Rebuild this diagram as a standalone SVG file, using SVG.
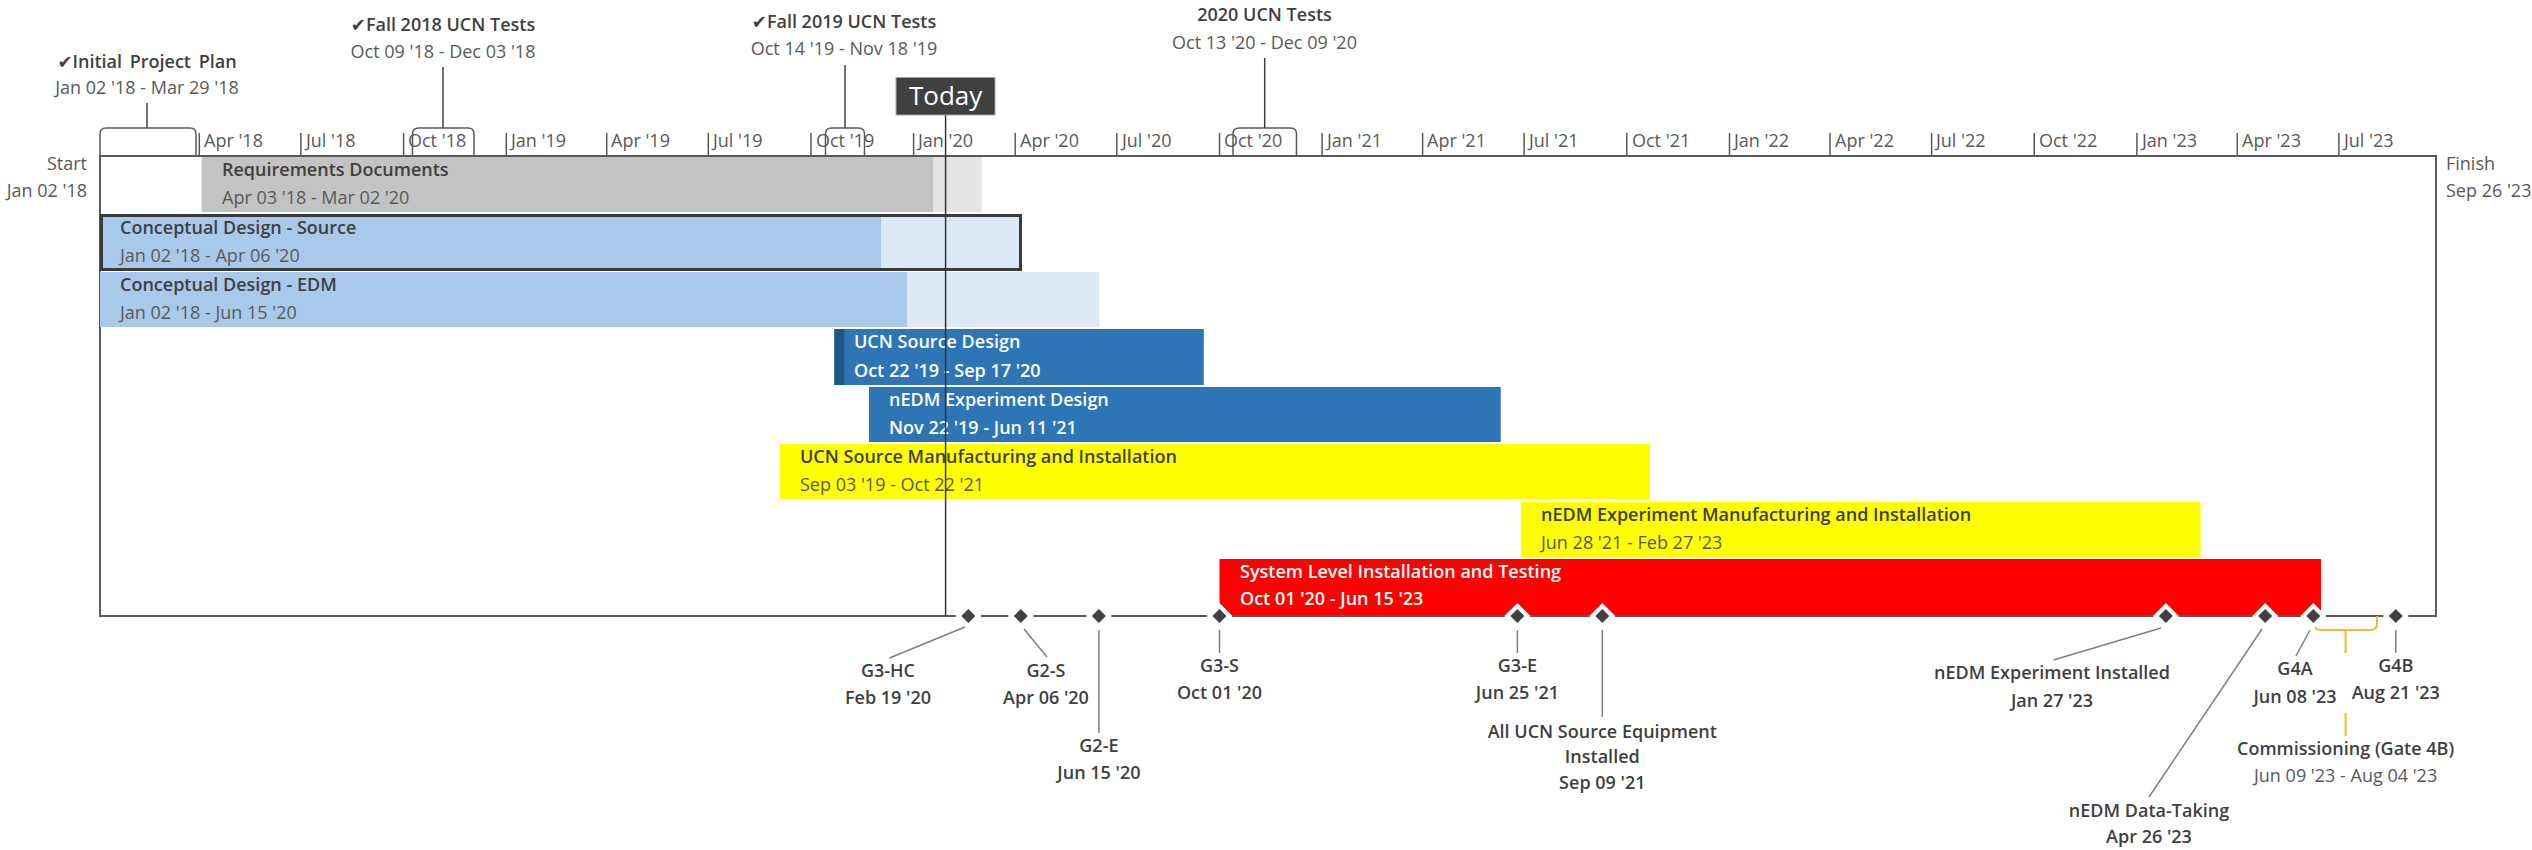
<svg xmlns="http://www.w3.org/2000/svg" width="2532" height="850" viewBox="0 0 2532 850">
<style>
text{font-family:"Open Sans","Noto Sans","DejaVu Sans",sans-serif;font-size:18px}
.ax{fill:#595959}
.t{font-weight:600;fill:#3f3f3f}
.d{fill:#595959}
.w{font-weight:600;fill:#ffffff}
.m{font-weight:600;fill:#3f3f3f;text-anchor:middle}
.c{text-anchor:middle}
.e{text-anchor:end}
.ld{stroke:#7f7f7f;stroke-width:1.5;fill:none}
.tl{stroke:#404040;stroke-width:1.5;fill:none}
.tk{stroke:#595959;stroke-width:1.5}
.fr{stroke:#595959;stroke-width:2;fill:none}
.br{fill:none;stroke:#595959;stroke-width:1.5}
.cm{fill:none;stroke:#f2b630;stroke-width:2}
.dw{fill:#ffffff}
.dk{fill:#404040}
</style>
<defs>
<path id="msw" class="dw" d="M0 -13 L13 0 L0 13 L-13 0 Z"/>
<path id="msd" class="dk" d="M0 -7 L7 0 L0 7 L-7 0 Z"/>
</defs>
<rect width="2532" height="850" fill="#ffffff"/>

<g id="timescale">
<path class="fr" d="M100 616 V156 H2436 V616 Z"/>
<g class="tk">
<line x1="199.3" y1="133" x2="199.3" y2="156"/>
<line x1="300.9" y1="133" x2="300.9" y2="156"/>
<line x1="403.6" y1="133" x2="403.6" y2="156"/>
<line x1="506.3" y1="133" x2="506.3" y2="156"/>
<line x1="606.7" y1="133" x2="606.7" y2="156"/>
<line x1="708.3" y1="133" x2="708.3" y2="156"/>
<line x1="811" y1="133" x2="811" y2="156"/>
<line x1="913.6" y1="133" x2="913.6" y2="156"/>
<line x1="1015.2" y1="133" x2="1015.2" y2="156"/>
<line x1="1116.8" y1="133" x2="1116.8" y2="156"/>
<line x1="1219.5" y1="133" x2="1219.5" y2="156"/>
<line x1="1322.1" y1="133" x2="1322.1" y2="156"/>
<line x1="1422.6" y1="133" x2="1422.6" y2="156"/>
<line x1="1524.1" y1="133" x2="1524.1" y2="156"/>
<line x1="1626.8" y1="133" x2="1626.8" y2="156"/>
<line x1="1729.5" y1="133" x2="1729.5" y2="156"/>
<line x1="1830" y1="133" x2="1830" y2="156"/>
<line x1="1931.6" y1="133" x2="1931.6" y2="156"/>
<line x1="2034.2" y1="133" x2="2034.2" y2="156"/>
<line x1="2136.9" y1="133" x2="2136.9" y2="156"/>
<line x1="2237.3" y1="133" x2="2237.3" y2="156"/>
<line x1="2338.9" y1="133" x2="2338.9" y2="156"/>
</g>
<g class="ax">
<text x="204" y="147">Apr '18</text>
<text x="306" y="147">Jul '18</text>
<text x="408" y="147">Oct '18</text>
<text x="511" y="147">Jan '19</text>
<text x="611" y="147">Apr '19</text>
<text x="713" y="147">Jul '19</text>
<text x="816" y="147">Oct '19</text>
<text x="918" y="147">Jan '20</text>
<text x="1020" y="147">Apr '20</text>
<text x="1122" y="147">Jul '20</text>
<text x="1224" y="147">Oct '20</text>
<text x="1327" y="147">Jan '21</text>
<text x="1427" y="147">Apr '21</text>
<text x="1529" y="147">Jul '21</text>
<text x="1632" y="147">Oct '21</text>
<text x="1734" y="147">Jan '22</text>
<text x="1835" y="147">Apr '22</text>
<text x="1936" y="147">Jul '22</text>
<text x="2039" y="147">Oct '22</text>
<text x="2142" y="147">Jan '23</text>
<text x="2242" y="147">Apr '23</text>
<text x="2344" y="147">Jul '23</text>
<text class="e" x="87" y="170">Start</text>
<text class="e" x="87" y="197">Jan 02 '18</text>
<text x="2446" y="170">Finish</text>
<text x="2446" y="197">Sep 26 '23</text>
</g>
</g>

<g id="hdr-initial-plan">
<path class="br" d="M100 156 V134 Q100 128 106 128 H190 Q196 128 196 134 V156"/>
<text class="m" x="147" y="68" style="word-spacing:3px">✔Initial Project Plan</text>
<text class="d c" x="147" y="94">Jan 02 '18 - Mar 29 '18</text>
</g>
<g id="hdr-fall-2018">
<path class="br" d="M412.5 156 V134 Q412.5 128 418.5 128 H468 Q474 128 474 134 V156"/>
<text class="m" x="443" y="31">✔Fall 2018 UCN Tests</text>
<text class="d c" x="443" y="58">Oct 09 '18 - Dec 03 '18</text>
</g>
<g id="hdr-fall-2019">
<path class="br" d="M825.5 156 V134 Q825.5 128 831.5 128 H858.5 Q864.5 128 864.5 134 V156"/>
<text class="m" x="844" y="28">✔Fall 2019 UCN Tests</text>
<text class="d c" x="844" y="55">Oct 14 '19 - Nov 18 '19</text>
</g>
<g id="hdr-2020">
<path class="br" d="M1233 156 V134 Q1233 128 1239 128 H1290.5 Q1296.5 128 1296.5 134 V156"/>
<text class="m" x="1264.5" y="21">2020 UCN Tests</text>
<text class="d c" x="1264.5" y="49">Oct 13 '20 - Dec 09 '20</text>
</g>

<g id="task-requirements">
<rect x="201.6" y="157" width="731.4" height="55" fill="#c3c3c3"/>
<rect x="933" y="157" width="48.7" height="55" fill="#e4e4e4"/>
<text class="t" x="222" y="176">Requirements Documents</text>
<text class="d" x="222" y="204">Apr 03 '18 - Mar 02 '20</text>
</g>
<g id="task-cd-source">
<rect x="100" y="215" width="781" height="55" fill="#a9c9eb"/>
<rect x="881" y="215" width="140" height="55" fill="#dde9f6"/>
<rect x="101.5" y="215.5" width="919" height="54" fill="none" stroke="#3a3a3a" stroke-width="3"/>
<text class="t" x="120" y="234">Conceptual Design - Source</text>
<text class="d" x="120" y="262">Jan 02 '18 - Apr 06 '20</text>
</g>
<g id="task-cd-edm">
<rect x="100" y="272" width="807" height="55" fill="#a9c9eb"/>
<rect x="907" y="272" width="192" height="55" fill="#dde9f6"/>
<text class="t" x="120" y="291">Conceptual Design - EDM</text>
<text class="d" x="120" y="319">Jan 02 '18 - Jun 15 '20</text>
</g>
<g id="task-ucn-design">
<rect x="834.4" y="329" width="369.4" height="56" fill="#2e75b6"/>
<rect x="834.4" y="329" width="10" height="56" fill="#1f5586"/>
<text class="w" x="854" y="348">UCN Source Design</text>
<text class="w" x="854" y="377">Oct 22 '19 - Sep 17 '20</text>
</g>
<g id="task-nedm-design">
<rect x="869" y="387" width="631.7" height="55" fill="#2e75b6"/>
<text class="w" x="889" y="406">nEDM Experiment Design</text>
<text class="w" x="889" y="434">Nov 22 '19 - Jun 11 '21</text>
</g>
<g id="task-ucn-mfg">
<rect x="779.7" y="444" width="870.3" height="55" fill="#ffff00"/>
<text class="t" x="800" y="463">UCN Source Manufacturing and Installation</text>
<text class="d" x="800" y="491">Sep 03 '19 - Oct 22 '21</text>
</g>
<g id="task-nedm-mfg">
<rect x="1520.8" y="502" width="679.7" height="55" fill="#ffff00"/>
<text class="t" x="1541" y="521">nEDM Experiment Manufacturing and Installation</text>
<text class="d" x="1541" y="549">Jun 28 '21 - Feb 27 '23</text>
</g>
<g id="task-system">
<rect x="1219.5" y="559" width="1101.5" height="56" fill="#ff0000"/>
<text class="w" x="1240" y="578">System Level Installation and Testing</text>
<text class="w" x="1240" y="605">Oct 01 '20 - Jun 15 '23</text>
</g>

<g id="today">
<line x1="945.6" y1="115" x2="945.6" y2="616" stroke="#333333" stroke-width="1.5"/>
<rect x="896" y="77.5" width="99" height="37.5" fill="#404040" stroke="#a6a6a6" stroke-width="1"/>
<text x="945.6" y="105" text-anchor="middle" fill="#ffffff" style="font-size:26px">Today</text>
</g>

<g id="connectors">
<line class="tl" x1="147" y1="128" x2="147" y2="103"/>
<line class="tl" x1="443" y1="128" x2="443" y2="67"/>
<line class="tl" x1="845" y1="128" x2="845" y2="65"/>
<line class="tl" x1="1264.7" y1="128" x2="1264.7" y2="58"/>
<line class="ld" x1="965" y1="627" x2="889.5" y2="658"/>
<line class="ld" x1="1024" y1="629" x2="1047" y2="657"/>
<line class="ld" x1="1098.9" y1="630" x2="1098.9" y2="733"/>
<line class="ld" x1="1219.5" y1="630" x2="1219.5" y2="653"/>
<line class="ld" x1="1517.4" y1="630" x2="1517.4" y2="653"/>
<line class="ld" x1="1602.3" y1="630" x2="1602.3" y2="717"/>
<line class="ld" x1="2161" y1="628" x2="2053.5" y2="660"/>
<line class="ld" x1="2262" y1="629" x2="2149" y2="797"/>
<line class="ld" x1="2310" y1="630" x2="2296" y2="656"/>
<line class="ld" x1="2395.8" y1="630" x2="2395.8" y2="653"/>
<path class="cm" d="M2314.4 616 V624 Q2314.4 630 2320.4 630 H2371 Q2377 630 2377 624 V616"/>
<line class="cm" x1="2345.6" y1="630" x2="2345.6" y2="653"/>
<line class="cm" x1="2345.6" y1="713" x2="2345.6" y2="736"/>
</g>

<g id="ms-g3-hc">
<use href="#msw" x="968.3" y="616"/><use href="#msd" x="968.3" y="616"/>
<text class="m" x="888" y="677">G3-HC</text>
<text class="m" x="888" y="704">Feb 19 '20</text>
</g>
<g id="ms-g2-s">
<use href="#msw" x="1020.8" y="616"/><use href="#msd" x="1020.8" y="616"/>
<text class="m" x="1046" y="677">G2-S</text>
<text class="m" x="1046" y="704">Apr 06 '20</text>
</g>
<g id="ms-g2-e">
<use href="#msw" x="1098.9" y="616"/><use href="#msd" x="1098.9" y="616"/>
<text class="m" x="1098.9" y="752">G2-E</text>
<text class="m" x="1098.9" y="779">Jun 15 '20</text>
</g>
<g id="ms-g3-s">
<use href="#msw" x="1219.5" y="616"/><use href="#msd" x="1219.5" y="616"/>
<text class="m" x="1219.5" y="672">G3-S</text>
<text class="m" x="1219.5" y="699">Oct 01 '20</text>
</g>
<g id="ms-g3-e">
<use href="#msw" x="1517.4" y="616"/><use href="#msd" x="1517.4" y="616"/>
<text class="m" x="1517.4" y="672">G3-E</text>
<text class="m" x="1517.4" y="699">Jun 25 '21</text>
</g>
<g id="ms-ucn-installed">
<use href="#msw" x="1602.3" y="616"/><use href="#msd" x="1602.3" y="616"/>
<text class="m" x="1602.3" y="738">All UCN Source Equipment</text>
<text class="m" x="1602.3" y="763">Installed</text>
<text class="m" x="1602.3" y="789">Sep 09 '21</text>
</g>
<g id="ms-nedm-installed">
<use href="#msw" x="2165.9" y="616"/><use href="#msd" x="2165.9" y="616"/>
<text class="m" x="2052" y="679">nEDM Experiment Installed</text>
<text class="m" x="2052" y="707">Jan 27 '23</text>
</g>
<g id="ms-data-taking">
<use href="#msw" x="2265.2" y="616"/><use href="#msd" x="2265.2" y="616"/>
<text class="m" x="2149" y="817">nEDM Data-Taking</text>
<text class="m" x="2149" y="843">Apr 26 '23</text>
</g>
<g id="ms-g4a">
<use href="#msw" x="2313.3" y="616"/><use href="#msd" x="2313.3" y="616"/>
<text class="m" x="2295" y="675">G4A</text>
<text class="m" x="2295" y="703">Jun 08 '23</text>
</g>
<g id="ms-g4b">
<use href="#msw" x="2395.8" y="616"/><use href="#msd" x="2395.8" y="616"/>
<text class="m" x="2395.8" y="672">G4B</text>
<text class="m" x="2395.8" y="699">Aug 21 '23</text>
</g>
<g id="task-commissioning">
<text class="m" x="2345.6" y="755">Commissioning (Gate 4B)</text>
<text class="d c" x="2345.6" y="782">Jun 09 '23 - Aug 04 '23</text>
</g>
</svg>
